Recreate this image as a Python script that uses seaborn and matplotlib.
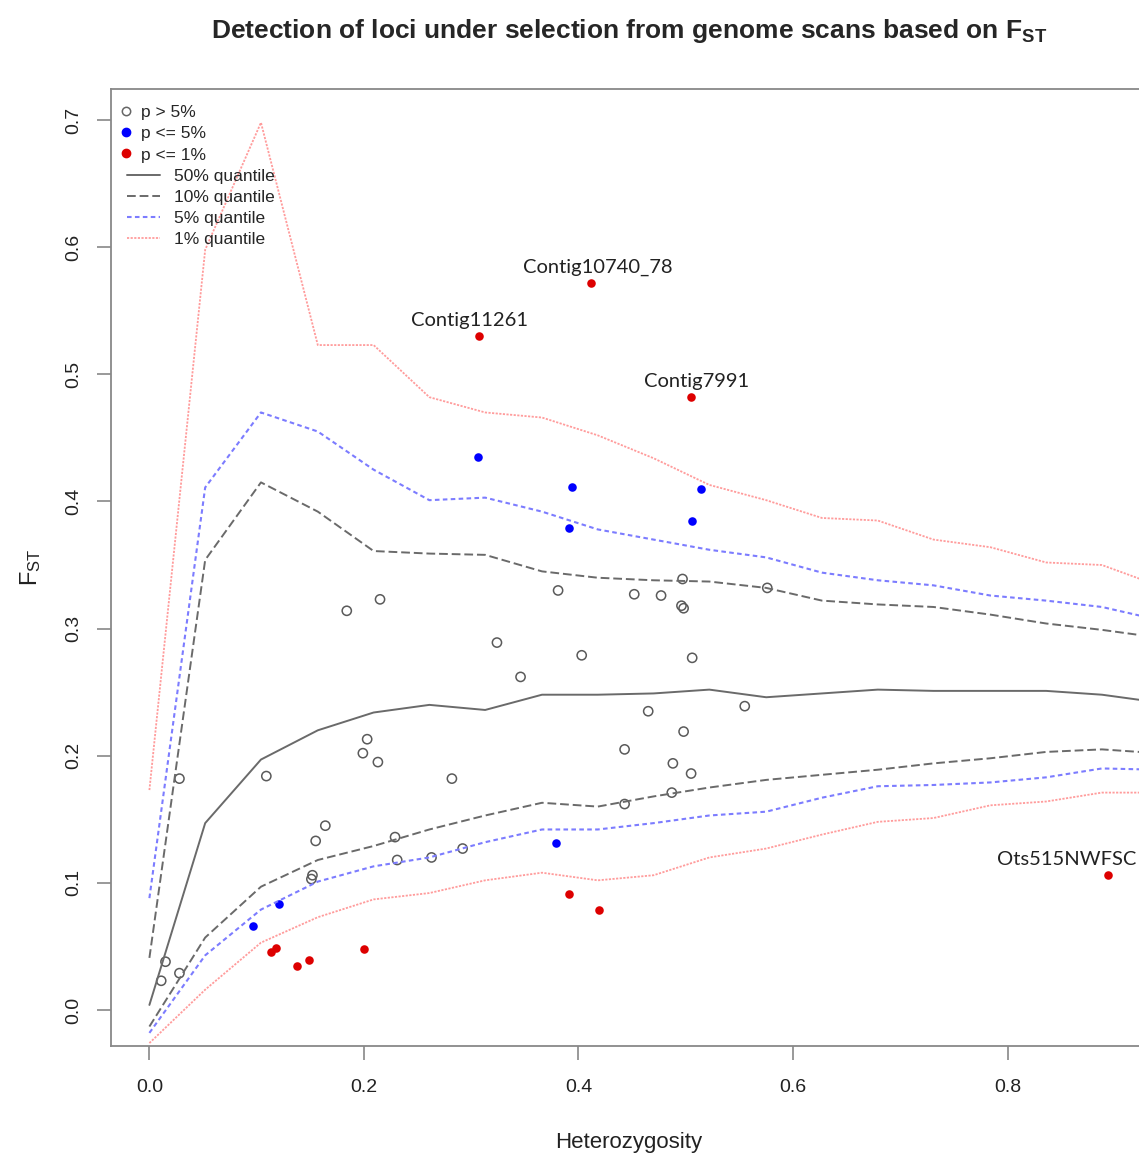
import matplotlib
matplotlib.use('Agg')
import pandas as pd
import matplotlib.pyplot as plt
import seaborn as sns
from matplotlib.lines import Line2D

# heterozygosity grid used by the quantile curves
het_grid = [0.0, 0.052, 0.104, 0.157, 0.209, 0.261, 0.313, 0.366, 0.418, 0.470,
            0.522, 0.575, 0.627, 0.679, 0.731, 0.784, 0.836, 0.888, 0.940]

# quantile curves (upper / lower envelopes)
q99_up = [0.173, 0.598, 0.698, 0.523, 0.523, 0.482, 0.470, 0.466, 0.452, 0.434,
          0.413, 0.401, 0.387, 0.385, 0.370, 0.364, 0.352, 0.350, 0.334]
q95_up = [0.088, 0.411, 0.470, 0.455, 0.425, 0.401, 0.403, 0.392, 0.378, 0.370,
          0.362, 0.356, 0.344, 0.338, 0.334, 0.326, 0.322, 0.317, 0.307]
q90_up = [0.041, 0.354, 0.415, 0.392, 0.361, 0.359, 0.358, 0.345, 0.340, 0.338,
          0.337, 0.332, 0.322, 0.319, 0.317, 0.311, 0.304, 0.299, 0.293]
q50 = [0.004, 0.147, 0.197, 0.220, 0.234, 0.240, 0.236, 0.248, 0.248, 0.249,
       0.252, 0.246, 0.249, 0.252, 0.251, 0.251, 0.251, 0.248, 0.242]
q10_lo = [-0.013, 0.057, 0.097, 0.118, 0.129, 0.142, 0.153, 0.163, 0.160, 0.168,
          0.175, 0.181, 0.185, 0.189, 0.194, 0.198, 0.203, 0.205, 0.202]
q05_lo = [-0.018, 0.043, 0.079, 0.101, 0.113, 0.120, 0.132, 0.142, 0.142, 0.147,
          0.153, 0.156, 0.167, 0.176, 0.177, 0.179, 0.183, 0.190, 0.189]
q01_lo = [-0.026, 0.016, 0.053, 0.073, 0.087, 0.092, 0.102, 0.108, 0.102, 0.106,
          0.120, 0.127, 0.138, 0.148, 0.151, 0.161, 0.164, 0.171, 0.171]

# loci with p > 5%
ns_het = [0.184, 0.215, 0.324, 0.203, 0.199, 0.213, 0.109, 0.028, 0.282, 0.164,
          0.155, 0.229, 0.231, 0.263, 0.292, 0.152, 0.151, 0.015, 0.011, 0.028,
          0.381, 0.452, 0.477, 0.497, 0.496, 0.498, 0.576, 0.403, 0.346, 0.506,
          0.465, 0.555, 0.498, 0.443, 0.488, 0.505, 0.487, 0.443]
ns_fst = [0.314, 0.323, 0.289, 0.213, 0.202, 0.195, 0.184, 0.182, 0.182, 0.145,
          0.133, 0.136, 0.118, 0.120, 0.127, 0.106, 0.103, 0.038, 0.023, 0.029,
          0.330, 0.327, 0.326, 0.339, 0.318, 0.316, 0.332, 0.279, 0.262, 0.277,
          0.235, 0.239, 0.219, 0.205, 0.194, 0.186, 0.171, 0.162]

# loci with p <= 5%
p5_het = [0.306, 0.394, 0.391, 0.514, 0.506, 0.379, 0.121, 0.097]
p5_fst = [0.435, 0.411, 0.379, 0.410, 0.385, 0.131, 0.083, 0.066]

# loci with p <= 1%
p1_het = [0.412, 0.307, 0.505, 0.894, 0.391, 0.419, 0.200, 0.113, 0.118, 0.138, 0.149]
p1_fst = [0.572, 0.530, 0.482, 0.106, 0.091, 0.079, 0.048, 0.046, 0.049, 0.035, 0.039]

labels = ['Contig10740_78', 'Contig11261', 'Contig7991', 'Ots515NWFSC']
label_shift = [6, -9, 5, -42]  # horizontal nudge of each label, pixels

sns.set_style('white')
plt.rcParams['font.family'] = ['Liberation Sans', 'DejaVu Sans']
plt.rcParams['mathtext.default'] = 'regular'

fig = plt.figure(figsize=(11.39, 11.55), dpi=100)
ax = fig.add_axes([111 / 1139, 109 / 1155, 1036 / 1139, 957 / 1155])

curves = pd.DataFrame({'het': het_grid, 'q99': q99_up, 'q95': q95_up, 'q90': q90_up,
                       'q50': q50, 'q10': q10_lo, 'q05': q05_lo, 'q01': q01_lo})

gray_line = '#6a6a6a'
blue_line = '#7c7cff'
red_line = '#ff9c9c'
red_ls = (0, (1.2, 0.8))
blue_ls = (0, (2.2, 1.6))
gray_ls = (0, (4.5, 2.0))

sns.lineplot(data=curves, x='het', y='q50', ax=ax, color=gray_line, lw=1.4, estimator=None)
for col in ['q90', 'q10']:
    sns.lineplot(data=curves, x='het', y=col, ax=ax, color=gray_line, lw=1.4,
                 linestyle=gray_ls, estimator=None)
for col in ['q95', 'q05']:
    sns.lineplot(data=curves, x='het', y=col, ax=ax, color=blue_line, lw=1.5,
                 linestyle=blue_ls, estimator=None)
for col in ['q99', 'q01']:
    sns.lineplot(data=curves, x='het', y=col, ax=ax, color=red_line, lw=1.3,
                 linestyle=red_ls, estimator=None)

sns.scatterplot(x=ns_het, y=ns_fst, ax=ax, marker='o', s=44, fc='none',
                ec='#5a5a5a', linewidth=1.1)
sns.scatterplot(x=p5_het, y=p5_fst, ax=ax, marker='o', s=38, color='#0000ff',
                linewidth=0)
sns.scatterplot(x=p1_het, y=p1_fst, ax=ax, marker='o', s=38, color='#dd0000',
                linewidth=0)

for name, dx, hx, fy in zip(labels, label_shift, p1_het[:4], p1_fst[:4]):
    ax.annotate(name, (hx, fy), xytext=(dx * 0.72, 5), textcoords='offset points',
                ha='center', va='bottom', fontsize=14.5, color='#222222',
                family=['Lato', 'DejaVu Sans'])

ax.set_xlim(-0.0358, 0.930)
ax.set_ylim(-0.0283, 0.7244)
ax.set_xticks([0.0, 0.2, 0.4, 0.6, 0.8])
ax.set_xticklabels(['0.0', '0.2', '0.4', '0.6', '0.8'])
ax.set_yticks([0.0, 0.1, 0.2, 0.3, 0.4, 0.5, 0.6, 0.7])
ax.set_yticklabels(['0.0', '0.1', '0.2', '0.3', '0.4', '0.5', '0.6', '0.7'],
                   rotation=90, va='center')
ax.tick_params(axis='both', direction='out', length=10, width=1.2,
               color='#888888', labelsize=14, labelcolor='#222222',
               bottom=True, left=True)
ax.tick_params(axis='x', pad=14)
ax.tick_params(axis='y', pad=11)
for sp in ax.spines.values():
    sp.set_color('#888888')
    sp.set_linewidth(1.3)

ax.set_xlabel('Heterozygosity', fontsize=16, color='#222222', labelpad=26)
ax.set_ylabel(r'F$_{ST}$', fontsize=17, color='#222222', labelpad=16)
ax.set_title(r'Detection of loci under selection from genome scans based on F$_{ST}$',
             fontsize=19, fontweight='bold', pad=37)

pt_handles = [
    Line2D([], [], ls='none', marker='o', ms=6, mfc='none', mec='#666666', mew=1.1),
    Line2D([], [], ls='none', marker='o', ms=6, mfc='#0000ff', mec='#0000ff'),
    Line2D([], [], ls='none', marker='o', ms=6, mfc='#dd0000', mec='#dd0000'),
]
leg1 = ax.legend(pt_handles, ['p > 5%', 'p <= 5%', 'p <= 1%'], loc='upper left',
                 bbox_to_anchor=(0.008, 0.983), frameon=False, fontsize=12.5,
                 handlelength=0.8, handletextpad=0.45, labelspacing=0.34,
                 borderaxespad=0, borderpad=0)
ax.add_artist(leg1)
ln_handles = [
    Line2D([], [], color=gray_line, lw=1.4),
    Line2D([], [], color=gray_line, lw=1.4, ls=gray_ls),
    Line2D([], [], color=blue_line, lw=1.5, ls=blue_ls),
    Line2D([], [], color=red_line, lw=1.3, ls=red_ls),
]
ax.legend(ln_handles, ['50% quantile', '10% quantile', '5% quantile', '1% quantile'],
          loc='upper left', bbox_to_anchor=(0.015, 0.917), frameon=False, fontsize=12.5,
          handlelength=1.9, handletextpad=0.86, labelspacing=0.34,
          borderaxespad=0, borderpad=0)

fig.savefig('out.png', dpi=100)
